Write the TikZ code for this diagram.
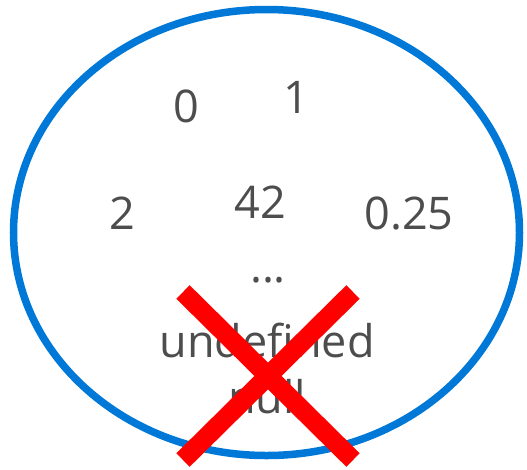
\documentclass[tikz,border=0pt]{standalone}
\usepackage{fontspec}
\setmainfont{Open Sans}
\definecolor{setblue}{HTML}{0078D7}
\definecolor{valgray}{HTML}{4D4D4D}
\definecolor{crossred}{HTML}{FF0000}
\begin{document}
\begin{tikzpicture}[x=1pt,y=-1pt,
  val/.style={text=valgray,font=\fontsize{45}{54}\selectfont,inner sep=0pt,anchor=base},
  cross/.style={draw=crossred,line width=19pt,line cap=butt}]
\useasboundingbox (0,0) rectangle (527,469);
% the set of values
\draw[setblue,line width=7.5pt] (266.5,232.5) ellipse [x radius=253pt,y radius=223pt];
\node[val] (zero) at (186,122) {0};
\node[val] (one) at (296,113) {1};
\node[val] (two) at (122,229) {2};
\node[val] (fortytwo) at (260,218) {42};
\node[val] (quarter) at (409,229) {0.25};
\node[val] (dots) at (268,282) {...};
\node[val] (undef) at (267,357) {undefined};
\node[val] (null) at (267,413) {null};
% cross over the excluded values
\coordinate (xa) at (183,292);
\coordinate (xb) at (353,460);
\coordinate (xc) at (353,292);
\coordinate (xd) at (183,460);
\draw[cross] (xa) -- (xb);
\draw[cross] (xc) -- (xd);
\end{tikzpicture}
\end{document}
